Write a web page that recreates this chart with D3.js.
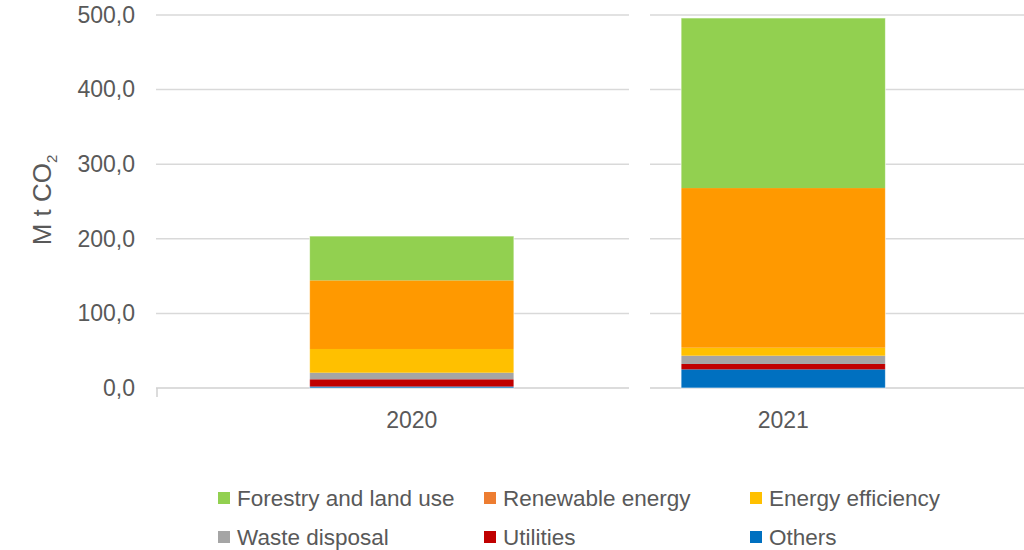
<!DOCTYPE html>
<html>
<head>
<meta charset="utf-8">
<script src="https://cdn.jsdelivr.net/npm/d3@7"></script>
<style>
  body { margin: 0; background: #fff; }
  svg text { font-family: "Liberation Sans", Arial, sans-serif; fill: #595959; }
</style>
</head>
<body>
<svg id="chart" width="1024" height="550"></svg>
<script>
// values (M t CO2)
var years = ['2020', '2021'];
var series = ['Others', 'Utilities', 'Waste disposal', 'Energy efficiency', 'Renewable energy', 'Forestry and land use'];
var others = [2, 25];
var utilities = [9.7, 7.2];
var waste = [8.8, 11.1];
var efficiency = [31.8, 10.7];
var renewable = [92, 214];
var forestry = [59.4, 228];
var yTicks = [0, 100, 200, 300, 400, 500];

var barColors = ['#0070c0', '#c00000', '#a5a5a5', '#ffc000', '#ff9900', '#92d050'];
// legend swatch for renewable is a redder orange than the bars
var legendOrder = ['Forestry and land use', 'Renewable energy', 'Energy efficiency', 'Waste disposal', 'Utilities', 'Others'];
var legendColors = ['#92d050', '#ed7d31', '#ffc000', '#a5a5a5', '#c00000', '#0070c0'];

var table = years.map(function (yr, i) {
  return {
    year: yr,
    'Others': others[i],
    'Utilities': utilities[i],
    'Waste disposal': waste[i],
    'Energy efficiency': efficiency[i],
    'Renewable energy': renewable[i],
    'Forestry and land use': forestry[i]
  };
});

var svg = d3.select('#chart');

var x = d3.scaleBand().domain(years).range([226, 969]).paddingInner(0.45).paddingOuter(0.225);
var y = d3.scaleLinear().domain([0, 500]).range([388, 15]);
var color = d3.scaleOrdinal().domain(series).range(barColors);

// gridlines, split in two pieces like the reference
var segments = [[156, 629], [650, 1024]];
var grid = svg.append('g');
yTicks.forEach(function (t) {
  segments.forEach(function (s) {
    grid.append('line')
      .attr('x1', s[0]).attr('x2', s[1])
      .attr('y1', y(t)).attr('y2', y(t))
      .attr('stroke', t === 0 ? '#d0d0d0' : '#d9d9d9')
      .attr('stroke-width', 1.5);
  });
});
grid.append('line')
  .attr('x1', 157).attr('x2', 157)
  .attr('y1', y(0)).attr('y2', y(0) + 9)
  .attr('stroke', '#d0d0d0').attr('stroke-width', 1.5);

// y axis labels
var fmt = function (d) { return d3.format('.1f')(d).replace('.', ','); };
var yAxis = d3.axisLeft(y).tickValues(yTicks).tickSize(0).tickPadding(0).tickFormat(fmt);
var ya = svg.append('g').attr('transform', 'translate(135,0)').call(yAxis);
ya.select('.domain').remove();
ya.selectAll('text').attr('font-size', 23).attr('fill', '#595959')
  .attr('font-family', '"Liberation Sans", Arial, sans-serif');

// stacked bars
var stack = d3.stack().keys(series);
var layers = svg.append('g').selectAll('g')
  .data(stack(table))
  .enter().append('g')
  .attr('fill', function (d) { return color(d.key); });

layers.selectAll('rect')
  .data(function (d) { return d; })
  .enter().append('rect')
  .attr('x', function (d) { return x(d.data.year); })
  .attr('width', x.bandwidth())
  .attr('y', function (d) { return y(d[1]); })
  .attr('height', function (d) { return y(d[0]) - y(d[1]); });

// light edge around each bar
svg.append('g').selectAll('rect')
  .data(table)
  .enter().append('rect')
  .attr('x', function (d) { return x(d.year); })
  .attr('width', x.bandwidth())
  .attr('y', function (d) { return y(d3.sum(series, function (k) { return d[k]; })); })
  .attr('height', function (d) { return y(0) - y(d3.sum(series, function (k) { return d[k]; })); })
  .attr('fill', 'none')
  .attr('stroke', 'rgba(255,255,255,0.6)')
  .attr('stroke-width', 1);

// category labels
var xAxis = d3.axisBottom(x).tickSize(0).tickPadding(0);
var xa = svg.append('g').attr('transform', 'translate(0,412)').call(xAxis);
xa.select('.domain').remove();
xa.selectAll('text').attr('font-size', 23).attr('fill', '#595959')
  .attr('font-family', '"Liberation Sans", Arial, sans-serif');

// y title
var title = svg.append('text')
  .attr('transform', 'translate(51,200) rotate(-90)')
  .attr('text-anchor', 'middle')
  .attr('font-size', 26);
title.append('tspan').text('M t CO');
title.append('tspan').attr('font-size', 15).attr('dy', 6).text('2');

// legend
var legX = [218, 484, 750];
var legY = [498, 537];
var leg = svg.append('g').selectAll('g')
  .data(legendOrder)
  .enter().append('g')
  .attr('transform', function (d, i) {
    return 'translate(' + legX[i % 3] + ',' + legY[Math.floor(i / 3)] + ')';
  });
leg.append('rect')
  .attr('x', 0).attr('y', -6).attr('width', 12).attr('height', 12)
  .attr('fill', function (d, i) { return legendColors[i]; });
leg.append('text')
  .attr('x', 19).attr('dy', '0.35em')
  .attr('font-size', 22.5)
  .text(function (d) { return d; });
</script>
</body>
</html>
